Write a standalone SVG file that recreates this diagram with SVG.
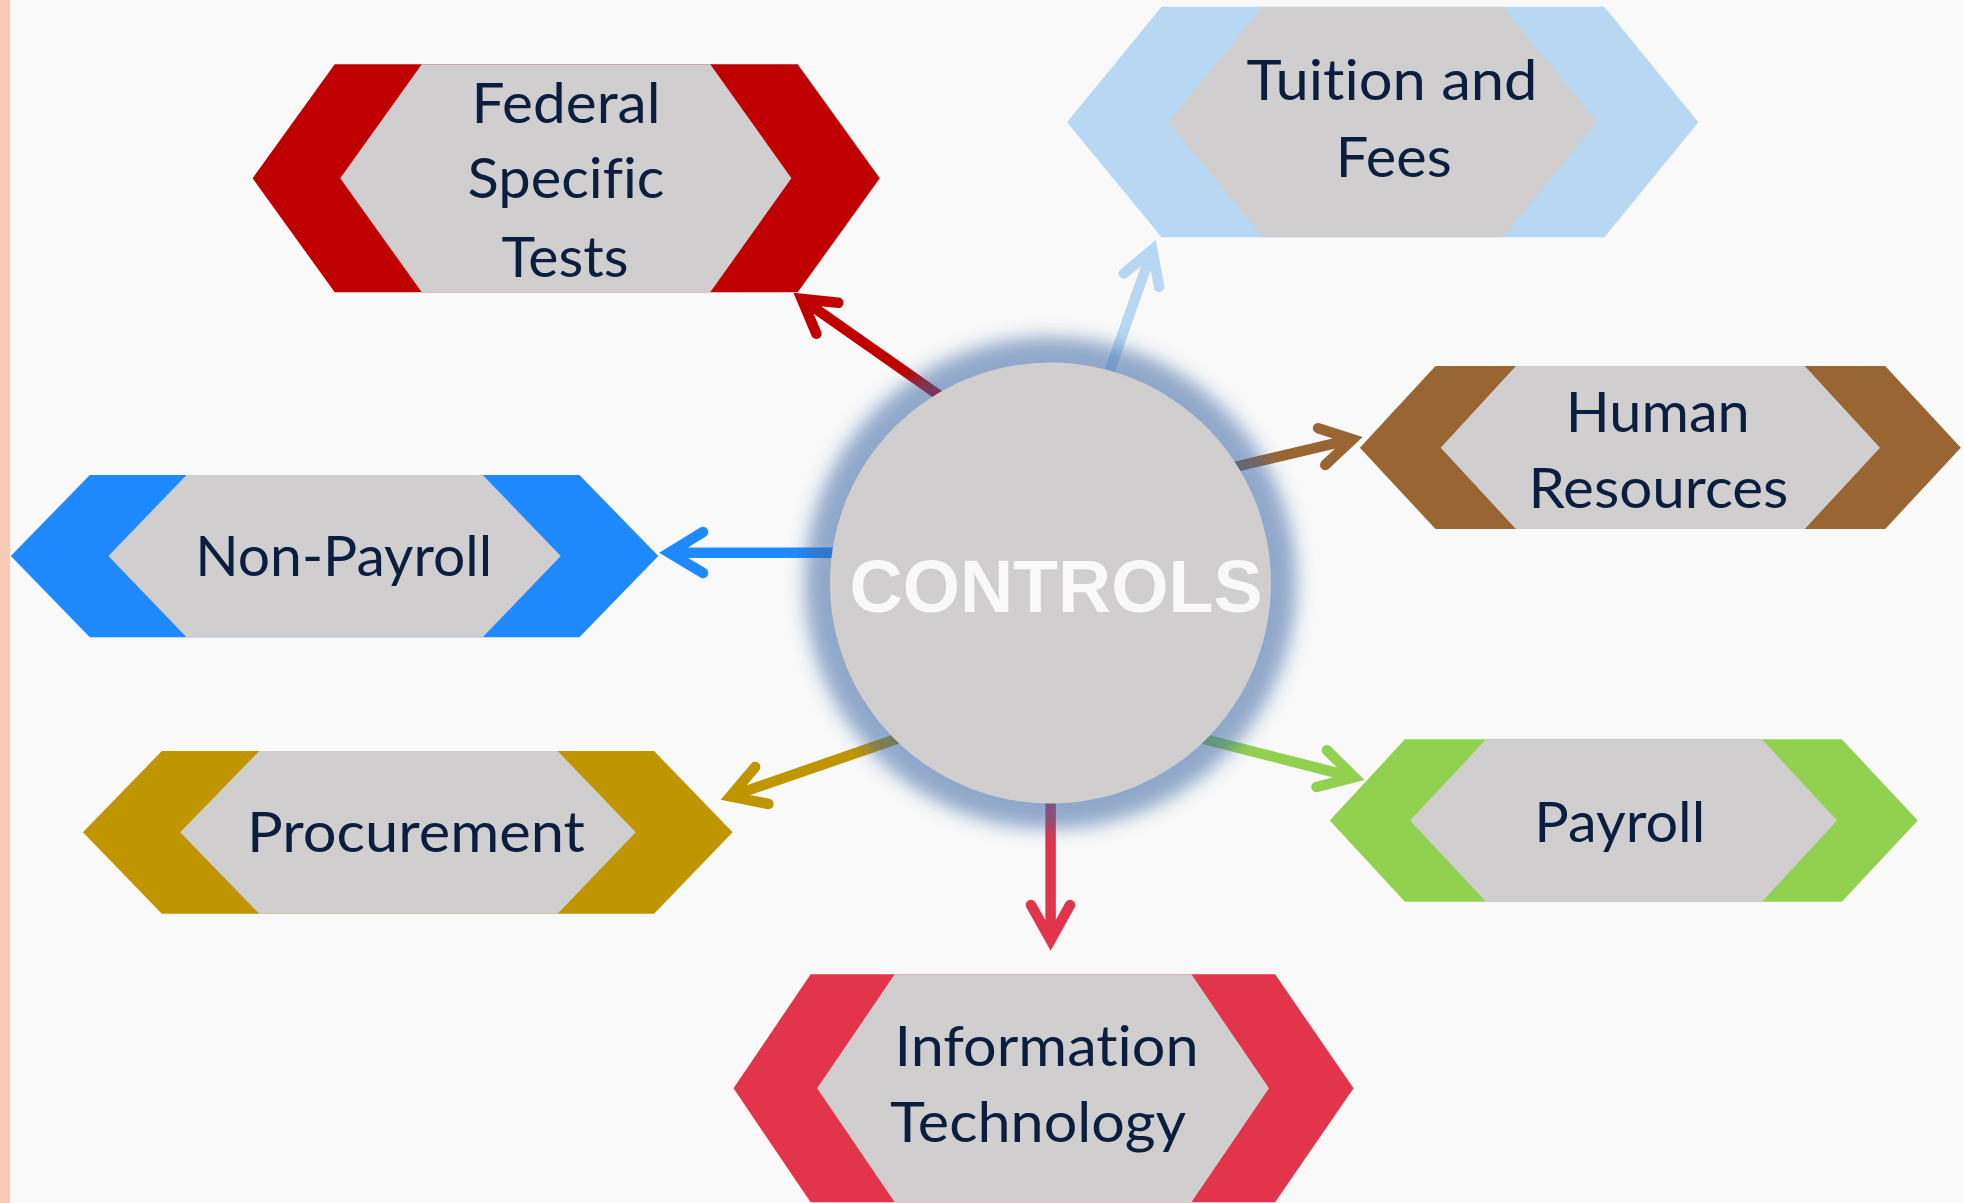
<svg xmlns="http://www.w3.org/2000/svg" width="1964" height="1203" viewBox="0 0 1964 1203">
<defs>
<filter id="glow" x="-30%" y="-30%" width="160%" height="160%">
<feGaussianBlur stdDeviation="9"/>
</filter>
</defs>
<style>
.lbl{font-family:Lato,"Open Sans","Liberation Sans",sans-serif;font-size:57px;fill:#0B1E3D;text-anchor:middle;font-variant-ligatures:none;}
.gray{fill:#D0CECF;}
.con{fill:none;stroke-width:10.5;stroke-linecap:round;stroke-linejoin:miter;stroke-miterlimit:10;}
.ctr{font-family:"Liberation Sans",Arial,sans-serif;font-weight:bold;font-size:75px;fill:#F9F9F9;text-anchor:middle;}
</style>
<rect x="0" y="0" width="1964" height="1203" fill="#F9F9F9"/>
<rect x="0" y="0" width="10" height="1203" fill="#F9C9B5"/>

<g id="connectors">
<path class="con" stroke="#C00000" d="M950,403 L801.7,299 M838.3,302.8 L801.7,299 L816.4,333.7"/>
<path class="con" stroke="#B8D7F3" d="M1106,381 L1152.3,249.7 M1123.8,273.5 L1152.3,249.7 L1159.1,286.8"/>
<path class="con" stroke="#996633" d="M1222,470 L1352.6,439.2 M1318.1,428.2 L1352.6,439.2 L1325.3,464.9"/>
<path class="con" stroke="#1F8AFF" d="M846,552.7 L669.3,552.7 M703,532 L669.3,552.7 L703,573"/>
<path class="con" stroke="#BF9600" d="M908,735 L730.4,796.4 M755.1,767.1 L730.4,796.4 L768.4,804"/>
<path class="con" stroke="#92D050" d="M1192,736 L1354.3,777.3 M1326.9,750.2 L1354.3,777.3 L1316.5,787"/>
<path class="con" stroke="#E2344A" d="M1050.6,790 L1050.6,940 M1031,905 L1050.6,940 L1070,905"/>
</g>

<g id="node-controls">
<circle cx="1050.5" cy="583" r="246" fill="#3A68A4" fill-opacity="0.55" filter="url(#glow)"/>
<circle cx="1050.5" cy="583" r="220.5" fill="#D0CECF"/>
<text class="ctr" x="1056" y="611.7" textLength="413" lengthAdjust="spacingAndGlyphs">CONTROLS</text>
</g>

<g id="node-federal">
<polygon fill="#C00000" points="252.6,178.3 334.7,64.3 797.7,64.3 879.8,178.3 797.7,292.3 334.7,292.3"/>
<polygon class="gray" points="340.2,178.3 421.8,64.3 710.2,64.3 791.4,178.3 710.2,292.3 421.8,292.3"/>
<text class="lbl" x="566" y="123.3" textLength="189" lengthAdjust="spacingAndGlyphs">Federal</text>
<text class="lbl" x="566" y="198.3" textLength="197" lengthAdjust="spacingAndGlyphs">Specific</text>
<text class="lbl" x="565" y="276.7" textLength="127" lengthAdjust="spacingAndGlyphs">Tests</text>
</g>

<g id="node-tuition">
<polygon fill="#B8D7F3" points="1067,122.3 1161.6,6.7 1604.3,6.7 1698.4,122.3 1604.3,237.3 1161.6,237.3"/>
<polygon class="gray" points="1168.6,122.3 1263.1,6.7 1502.7,6.7 1597.3,122.3 1502.7,237.3 1263.1,237.3"/>
<text class="lbl" x="1392" y="100" textLength="291" lengthAdjust="spacingAndGlyphs">Tuition and</text>
<text class="lbl" x="1393.7" y="176.7" textLength="116" lengthAdjust="spacingAndGlyphs">Fees</text>
</g>

<g id="node-hr">
<polygon fill="#996633" points="1359.9,447.7 1435.5,366 1885.2,366 1960.8,447.7 1885.2,529 1435.5,529"/>
<polygon class="gray" points="1440.7,447.7 1515.9,366 1804.8,366 1880,447.7 1804.8,529 1515.9,529"/>
<text class="lbl" x="1657.8" y="431.7" textLength="184" lengthAdjust="spacingAndGlyphs">Human</text>
<text class="lbl" x="1658.4" y="508.3" textLength="260" lengthAdjust="spacingAndGlyphs">Resources</text>
</g>

<g id="node-nonpayroll">
<polygon fill="#1F8AFF" points="10.8,556 89.8,475 579.4,475 658.3,556 579.4,637.3 89.8,637.3"/>
<polygon class="gray" points="108.4,556 186.5,475 482.7,475 560.7,556 482.7,637.3 186.5,637.3"/>
<text class="lbl" x="343.7" y="576" textLength="297" lengthAdjust="spacingAndGlyphs">Non-Payroll</text>
</g>

<g id="node-procurement">
<polygon fill="#BF9600" points="82.9,832.3 161.8,751 654.1,751 732.6,832.3 654.1,913.7 161.8,913.7"/>
<polygon class="gray" points="180.2,832.3 259.2,751 557.6,751 635.7,832.3 557.6,913.7 259.2,913.7"/>
<text class="lbl" x="416" y="852.3" textLength="338" lengthAdjust="spacingAndGlyphs">Procurement</text>
</g>

<g id="node-payroll">
<polygon fill="#92D050" points="1329.8,820.5 1404.9,739.3 1841.8,739.3 1917.8,820.5 1841.8,901.7 1404.9,901.7"/>
<polygon class="gray" points="1410,820.5 1486,739.3 1762,739.3 1837.1,820.5 1762,901.7 1486,901.7"/>
<text class="lbl" x="1619.8" y="841.7" textLength="171" lengthAdjust="spacingAndGlyphs">Payroll</text>
</g>

<g id="node-it">
<polygon fill="#E2344A" points="733.5,1088.3 810.6,974.3 1275.1,974.3 1353.5,1088.3 1275.1,1202.3 810.6,1202.3"/>
<polygon class="gray" points="817.1,1088.3 894.7,974.3 1191.4,974.3 1269,1088.3 1191.4,1202.3 894.7,1202.3"/>
<text class="lbl" x="1046.5" y="1065.7" textLength="304" lengthAdjust="spacingAndGlyphs">Information</text>
<text class="lbl" x="1038.1" y="1142.3" textLength="296" lengthAdjust="spacingAndGlyphs">Technology</text>
</g>
</svg>
